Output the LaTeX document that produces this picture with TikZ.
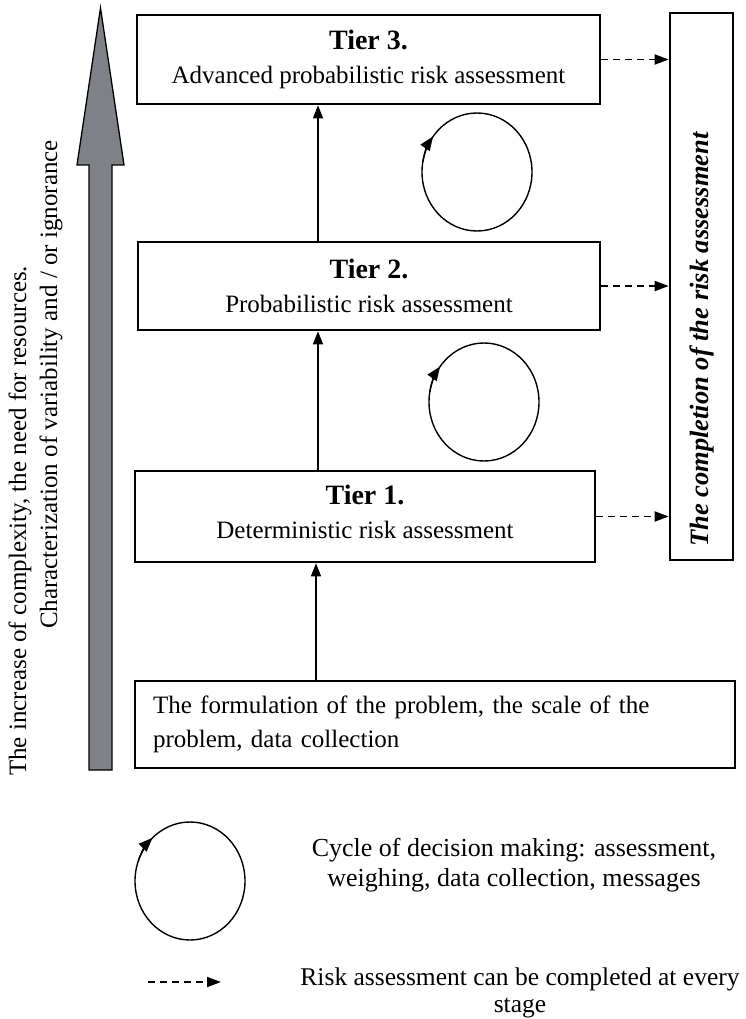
\documentclass[tikz,border=0pt]{standalone}
\usepackage{fontspec}
\setmainfont{Liberation Serif}
\usetikzlibrary{arrows.meta}
\definecolor{arrowgray}{RGB}{128,129,134}
\begin{document}
\begin{tikzpicture}[x=1pt,y=1pt,
  box/.style={draw, line width=2.6pt, inner sep=0pt, align=center, font=\fontsize{25}{34}\selectfont},
  solidarr/.style={line width=1.4pt, -{Triangle[length=13pt,width=10pt]}},
  dasharr/.style={line width=1.8pt, dash pattern=on 7pt off 5pt, -{Triangle[length=14pt,width=10pt]}},
  cyc/.style={line width=1.4pt},
  cycarr/.style={line width=1.4pt, -{Triangle[length=14pt,width=11pt]}},
  sidetext/.style={font=\fontsize{25}{30}\selectfont, inner sep=0pt, rotate=90},
  ]
\useasboundingbox (0,0) rectangle (746,-1019);

% big gray arrow
\draw[line width=1.3pt, fill=arrowgray]
  (89,-770) -- (89,-165) -- (77,-165) -- (100.5,-8) -- (124,-165) -- (112,-165) -- (112,-770) -- cycle;

% side texts
\node[sidetext, anchor=base west] (l1) at (26,-776) {The increase of complexity, the need for resources.};
\node[sidetext, anchor=base east] (l2) at (57,-140) {Characterization of variability and / or ignorance};

% tier boxes
\node[box, minimum width=463, minimum height=89] (t3) at (368.5,-59.5)
  {{\fontsize{28}{34}\selectfont\bfseries Tier 3.}\\Advanced probabilistic risk assessment};
\node[box, minimum width=462, minimum height=88] (t2) at (369,-286)
  {{\fontsize{28}{34}\selectfont\bfseries Tier 2.}\\Probabilistic risk assessment};
\node[box, minimum width=460, minimum height=91] (t1) at (365,-516.5)
  {{\fontsize{28}{34}\selectfont\bfseries Tier 1.}\\Deterministic risk assessment\strut};
\node[box, minimum width=600, minimum height=87, align=left, text width=564] (fm) at (435,-724.5)
  {The formulation of the problem, the scale of the\\problem, data collection};

% right box
\node[draw, line width=2.6pt, minimum width=63, minimum height=547, inner sep=0pt] (rb) at (701.5,-286.5) {};
\node[rotate=90, anchor=base west, font=\fontsize{26.5}{30}\selectfont\bfseries\itshape, inner sep=0pt] (rbt) at (708,-547) {The completion of the risk assessment};

% vertical arrows
\coordinate (ax) at (318,0);
\coordinate (bx) at (316,0);
\draw[solidarr] (t2.north -| ax) -- (t3.south -| ax);
\draw[solidarr] (t1.north -| ax) -- (t2.south -| ax);
\draw[solidarr] (fm.north -| bx) -- (t1.south -| bx);

% dashed arrows
\draw[dasharr] (t3.east) -- (t3.east -| rb.west);
\draw[dasharr] (t2.east) -- (t2.east -| rb.west);
\draw[dasharr] (t1.east) -- (t1.east -| rb.west);

% cycles
\coordinate (c1) at (477,-172);
\coordinate (c2) at (484,-402);
\coordinate (c3) at (190,-881);
\draw[cyc] (c1) ellipse [x radius=55, y radius=59];
\draw[cycarr] ([shift={(170:55 and 59)}]c1) arc[start angle=170, end angle=143, x radius=55, y radius=59];
\draw[cyc] (c2) ellipse [x radius=55, y radius=59];
\draw[cycarr] ([shift={(170:55 and 59)}]c2) arc[start angle=170, end angle=143, x radius=55, y radius=59];
\draw[cyc] (c3) ellipse [x radius=55, y radius=59];
\draw[cycarr] ([shift={(160:55 and 59)}]c3) arc[start angle=160, end angle=133, x radius=55, y radius=59];

% legend
\node[font=\fontsize{26}{30}\selectfont, inner sep=0pt, align=center, anchor=north] (lg1) at (514,-838) {Cycle of decision making: assessment,\\weighing, data collection, messages};
\coordinate (d1) at (148,-982);
\coordinate (d2) at (221,-982);
\draw[dasharr] (d1) -- (d2);
\node[font=\fontsize{25.5}{27}\selectfont, inner sep=0pt, align=center, anchor=north] (lg2) at (520,-967.5) {Risk assessment can be completed at every\\stage};
\end{tikzpicture}
\end{document}
